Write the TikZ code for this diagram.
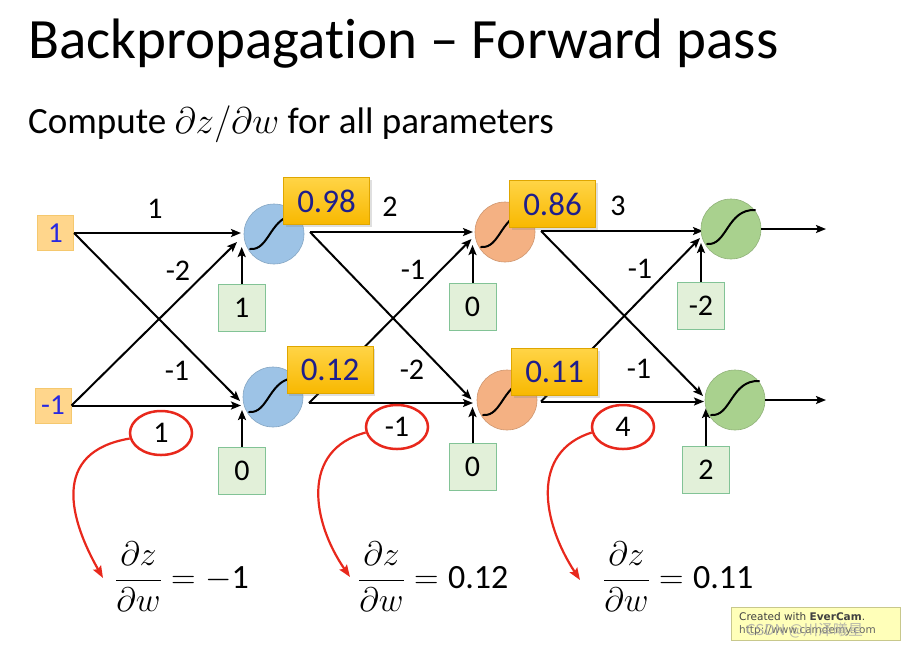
\documentclass[tikz,border=0pt]{standalone}
\usepackage{fix-cm}
\usepackage{fontspec}
\setmainfont{Carlito}[Ligatures=NoCommon]
\newfontfamily\wmfont{DejaVu Sans}
\newfontfamily\cjkfont{Noto Sans CJK SC}
\usetikzlibrary{arrows.meta,shapes.geometric,shadows}
\definecolor{inFill}{RGB}{255,214,140}
\definecolor{inDraw}{RGB}{245,200,110}
\definecolor{inText}{RGB}{40,40,225}
\definecolor{valText}{RGB}{30,30,140}
\definecolor{goldTop}{RGB}{255,212,70}
\definecolor{goldBot}{RGB}{248,184,0}
\definecolor{biasFill}{RGB}{226,240,217}
\definecolor{biasDraw}{RGB}{130,195,150}
\definecolor{blueN}{RGB}{157,195,230}
\definecolor{orangeN}{RGB}{244,177,131}
\definecolor{greenN}{RGB}{169,209,142}
\definecolor{redC}{RGB}{232,40,28}
\definecolor{wmFill}{RGB}{255,255,185}
\definecolor{wmDraw}{RGB}{200,200,140}
\newcommand\wsize{\fontsize{30}{34}\selectfont}
\newcommand\valsize{\fontsize{33}{36}\selectfont}
\newcommand\fsize{\fontsize{34}{40}\selectfont}
\begin{document}
\begin{tikzpicture}[x=1pt,y=-1pt,
  inbox/.style={draw=inDraw, fill=inFill, line width=1pt, minimum width=36pt, minimum height=35pt, inner sep=0pt, text=inText, font=\fontsize{29}{32}\selectfont},
  neuron/.style={circle, minimum size=60pt, inner sep=0pt, fill=#1, draw=#1!85!black, line width=0.6pt},
  valbox/.style={minimum width=86pt, minimum height=47pt, inner sep=0pt, top color=goldTop, bottom color=goldBot, draw=goldBot!90!black, line width=0.6pt, text=valText, font=\valsize, drop shadow={opacity=0.25, shadow xshift=2pt, shadow yshift=-2pt}},
  biasbox/.style={draw=biasDraw, fill=biasFill, line width=1pt, minimum size=47pt, inner sep=0pt, font=\wsize},
  wlabel/.style={font=\wsize, inner sep=0pt},
  conn/.style={line width=2pt, -{Stealth[length=10pt,width=8pt,inset=2pt]}},
  sig/.style={line width=2pt, line cap=round},
  redarc/.style={draw=redC, line width=2.2pt, -{Stealth[length=12pt,width=9pt,inset=2pt]}},
  redell/.style={ellipse, draw=redC, line width=2.5pt, minimum width=62pt, minimum height=44pt, inner sep=0pt, font=\wsize},
  formula/.style={anchor=west, font=\fsize, inner sep=0pt}
]
\useasboundingbox[fill=white] (0,0) rectangle (904,649);

% title
\node[anchor=base west, inner sep=0pt, font=\fontsize{57}{64}\selectfont] (title) at (28,58) {Backpropagation – Forward pass};
\node[anchor=base west, inner sep=0pt, font=\fontsize{37}{42}\selectfont] (sub) at (28,133) {Compute $\partial z/\partial w$ for all parameters};

% inputs
\node[inbox] (x1) at (55.5,233) {1};
\node[inbox] (x2) at (53,405.5) {-1};

% bias boxes
\node[biasbox] (c1) at (241.7,308) {1};
\node[biasbox] (d1) at (242,470.5) {0};
\node[biasbox] (c2) at (472.5,306.5) {0};
\node[biasbox] (d2) at (472.5,467) {0};
\node[biasbox] (c3) at (701,306) {-2};
\node[biasbox] (d3) at (706,469.5) {2};

% target coordinates
\coordinate (a1h) at (241,233);
\coordinate (a1d) at (237,242);
\coordinate (a1b) at (241.7,247);
\coordinate (b1h) at (241,405.5);
\coordinate (b1d) at (240,401);
\coordinate (b1b) at (242,410);
\coordinate (o1) at (310,232);
\coordinate (o2) at (309,403);
\coordinate (a2h) at (473,232);
\coordinate (a2d) at (471.5,239);
\coordinate (a2b) at (472.5,245);
\coordinate (b2h) at (473,403);
\coordinate (b2d) at (471.5,399.5);
\coordinate (b2b) at (472.5,407);
\coordinate (o3) at (541,231);
\coordinate (o4) at (541,401.5);
\coordinate (a3h) at (703,231);
\coordinate (a3d) at (700,238);
\coordinate (a3b) at (701,243);
\coordinate (b3h) at (704,401.5);
\coordinate (b3d) at (703,396);
\coordinate (b3b) at (706,408);
\coordinate (out1) at (826,229);
\coordinate (out2) at (826,400);

% connectors layer 0 -> 1
\draw[conn] (x1.east) -- (a1h);
\draw[conn] (x1.east) -- (b1d);
\draw[conn] (x2.east) -- (b1h);
\draw[conn] (x2.east) -- (a1d);
\draw[conn] (c1.north) -- (a1b);
\draw[conn] (d1.north) -- (b1b);
% layer 1 -> 2
\draw[conn] (o1) -- (a2h);
\draw[conn] (o1) -- (b2d);
\draw[conn] (o2) -- (b2h);
\draw[conn] (o2) -- (a2d);
\draw[conn] (c2.north) -- (a2b);
\draw[conn] (d2.north) -- (b2b);
% layer 2 -> 3
\draw[conn] (o3) -- (a3h);
\draw[conn] (o3) -- (b3d);
\draw[conn] (o4) -- (b3h);
\draw[conn] (o4) -- (a3d);
\draw[conn] (c3.north) -- (a3b);
\draw[conn] (d3.north) -- (b3b);

% neurons
\node[neuron=blueN] (n1) at (274,234) {};
\node[neuron=blueN] (n2) at (273,397) {};
\node[neuron=orangeN] (n3) at (505,232) {};
\node[neuron=orangeN] (n4) at (507,400) {};
\node[neuron=greenN] (n5) at (731,229) {};
\node[neuron=greenN] (n6) at (735,400) {};
\foreach \n in {n1,n2,n3,n4,n5,n6}{
  \draw[sig, shift={(\n.center)}] (-24,15) .. controls (-4,17) and (-4,-20) .. (24,-19);
}
% outputs
\draw[conn] (n5.east) -- (out1);
\draw[conn] (n6.east) -- (out2);

% value boxes
\node[valbox] (v1) at (326.5,201) {0.98};
\node[valbox] (v2) at (330,370) {0.12};
\node[valbox] (v3) at (552.5,204) {0.86};
\node[valbox] (v4) at (554.5,372) {0.11};

% weight labels
\node[wlabel] (w1) at (155,209) {1};
\node[wlabel] (w2) at (178,271) {-2};
\node[wlabel] (w3) at (177,371) {-1};
\node[wlabel] (w4) at (390,207) {2};
\node[wlabel] (w5) at (413,270) {-1};
\node[wlabel] (w6) at (412,370) {-2};
\node[wlabel] (w7) at (618,206) {3};
\node[wlabel] (w8) at (640,269) {-1};
\node[wlabel] (w9) at (639,369) {-1};

% circled weights
\node[redell] (e1) at (161,433) {1};
\node[redell] (e2) at (397,427) {-1};
\node[redell] (e3) at (623,427) {4};

% formulas
\node[formula] (f1) at (115,577) {$\displaystyle\frac{\partial z}{\partial w} = -\mbox{1}$};
\node[formula] (f2) at (358,577) {$\displaystyle\frac{\partial z}{\partial w} = \mbox{0.12}$};
\node[formula] (f3) at (603,577) {$\displaystyle\frac{\partial z}{\partial w} = \mbox{0.11}$};
\coordinate (t1) at (103,578);
\coordinate (t2) at (350,577);
\coordinate (t3) at (580,580);
\draw[redarc] (e1.190) .. controls (50,452) and (70,520) .. (t1);
\draw[redarc] (e2.190) .. controls (300,450) and (312,522) .. (t2);
\draw[redarc] (e3.190) .. controls (530,452) and (542,522) .. (t3);

% watermark
\node[draw=wmDraw, fill=wmFill, line width=1pt, minimum width=169pt, minimum height=33pt, inner sep=0pt, anchor=north west] (wm) at (731,607) {};
\node[anchor=west, inner sep=0pt, font=\wmfont\fontsize{10.5}{12}\selectfont, text=black!75] (wm1) at (739,617) {Created with \textbf{EverCam}.};
\node[anchor=west, inner sep=0pt, font=\wmfont\fontsize{10.5}{12}\selectfont, text=black!60] (wm2) at (739,631) {http://www.camdemy.com};
\node[anchor=west, inner sep=0pt, font=\cjkfont\fontsize{15}{16}\selectfont, text=black!35, opacity=0.8] (wm3) at (746,630) {CSDN @川泽曦星};
\end{tikzpicture}
\end{document}
